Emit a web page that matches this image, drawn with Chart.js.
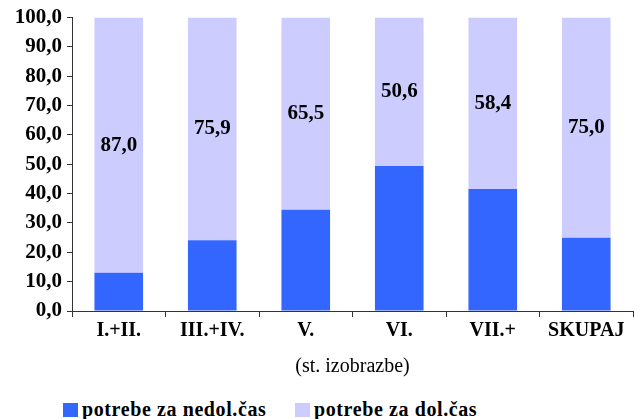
<!DOCTYPE html>
<html>
<head>
<meta charset="utf-8">
<script src="https://cdn.jsdelivr.net/npm/chart.js@4"></script>
<style>
  body { margin: 0; background: #fff; }
  #wrap { position: relative; width: 634px; height: 419px; }
  #box { position: absolute; left: 0; top: 0; width: 634px; height: 383px; }
  #legend { position: absolute; top: 400px; left: 0; width: 634px; height: 19px;
            font: bold 20px "Liberation Serif", "Times New Roman", serif; letter-spacing: 0.6px; color: #000; }
  #legend span.item { position: absolute; top: 0; white-space: nowrap; line-height: 19px; }
  #legend i { display: inline-block; width: 15px; height: 14px; margin-right: 4px; vertical-align: -1px; }
</style>
</head>
<body>
<div id="wrap">
  <div id="box"><canvas id="bars"></canvas></div>
  <div id="legend"></div>
</div>
<script>
// categories (stopnja izobrazbe)
const categories = ["I.+II.", "III.+IV.", "V.", "VI.", "VII.+", "SKUPAJ"];
// share of part-time needs (bottom)
const nedolCas = [13.0, 24.1, 34.5, 49.4, 41.6, 25.0];
// share of full-time needs (top, labelled)
const dolCas = [87.0, 75.9, 65.5, 50.6, 58.4, 75.0];
const seriesNames = ["potrebe za nedol.čas", "potrebe za dol.čas"];
const yTicks = [0, 10, 20, 30, 40, 50, 60, 70, 80, 90, 100];

const fmt = v => Number(v).toFixed(1).replace('.', ',');
const serif = "'Liberation Serif', 'Times New Roman', serif";

// labels in the middle of the upper segments
const topLabels = {
    id: 'topLabels',
    afterDatasetsDraw(chart) {
        const ctx = chart.ctx;
        const meta = chart.getDatasetMeta(1);
        ctx.save();
        ctx.font = "bold 21px " + serif;
        ctx.fillStyle = '#000';
        ctx.textAlign = 'center';
        ctx.textBaseline = 'middle';
        meta.data.forEach((bar, i) => {
            const p = bar.getProps(['x', 'y', 'base'], true);
            ctx.fillText(fmt(dolCas[i]), p.x, (p.y + p.base) / 2);
        });
        ctx.restore();
    }
};

const chart = new Chart(document.getElementById('bars'), {
    type: 'bar',
    data: {
        labels: categories,
        datasets: [
            { label: seriesNames[0], data: nedolCas, backgroundColor: '#3366FF' },
            { label: seriesNames[1], data: dolCas, backgroundColor: '#CCCCFF' }
        ]
    },
    plugins: [topLabels],
    options: {
        responsive: true,
        maintainAspectRatio: false,
        animation: false,
        layout: { padding: { top: 12, right: 1, left: 0, bottom: 0 } },
        datasets: { bar: { categoryPercentage: 1, barPercentage: 0.52 } },
        plugins: {
            legend: { display: false },
            tooltip: { enabled: false }
        },
        scales: {
            x: {
                stacked: true,
                border: { color: '#333', width: 1 },
                grid: { drawOnChartArea: false, tickLength: 6, color: '#333', offset: true },
                ticks: { color: '#000', font: { family: serif, size: 20, weight: 'bold' }, padding: 2 },
                title: { display: true, text: '(st. izobrazbe)', color: '#000',
                         font: { family: serif, size: 20 }, padding: { top: 4, bottom: 4 } },
                afterFit: s => { s.height = 72; }
            },
            y: {
                stacked: true,
                min: 0,
                max: 100,
                afterBuildTicks: s => { s.ticks = yTicks.map(v => ({ value: v })); },
                border: { color: '#333', width: 1 },
                grid: { drawOnChartArea: false, tickLength: 5, color: '#333' },
                ticks: { color: '#000', font: { family: serif, size: 21, weight: 'bold' }, padding: 5,
                         callback: v => fmt(v) },
                afterFit: s => { s.width = 72; }
            }
        }
    }
});

// legend below the chart
const legendPos = [63, 295];
const lg = document.getElementById('legend');
chart.data.datasets.forEach((ds, i) => {
    const it = document.createElement('span');
    it.className = 'item';
    it.style.left = legendPos[i] + 'px';
    it.innerHTML = '<i style="background:' + ds.backgroundColor + '"></i>' + ds.label;
    lg.appendChild(it);
});
</script>
</body>
</html>
